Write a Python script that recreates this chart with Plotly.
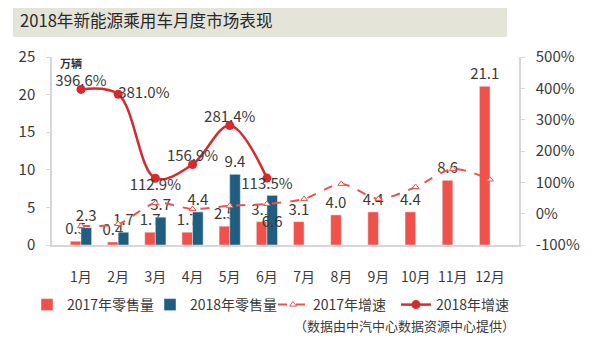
import plotly.graph_objects as go

months = ["1月", "2月", "3月", "4月", "5月", "6月", "7月", "8月", "9月", "10月", "11月", "12月"]
sales_2017 = [0.5, 0.4, 1.7, 1.7, 2.5, 3.1, 3.1, 4.0, 4.4, 4.4, 8.6, 21.1]
sales_2018 = [2.3, 1.7, 3.7, 4.4, 9.4, 6.6, None, None, None, None, None, None]
growth_2017 = [-39, -33, 34, 15, 25, 31, 47, 95, 47, 85, 143, 109]
growth_2018 = [396.6, 381.0, 112.9, 156.9, 281.4, 113.5, None, None, None, None, None, None]

left_ticks = [0, 5, 10, 15, 20, 25]
right_ticks = [-100, 0, 100, 200, 300, 400, 500]

FONT = "Noto Sans CJK SC, Noto Sans, sans-serif"
TXT = "#3a3a3a"
RED = "#f0514a"
BLUE = "#1f5e7e"
LINE_RED = "#d62a2c"

# page body has an 8px default margin; compensate so the figure lands where the reference is
OFF = 8
L, T, PW, PH = 52 - OFF, 57 - OFF, 467, 188

fig = go.Figure()

fig.add_trace(go.Bar(
    x=months, y=sales_2017, name="2017年零售量",
    marker_color=RED,
    text=[f"{v:.1f}" for v in sales_2017], textposition="outside",
    textfont=dict(size=15, color=TXT, family=FONT),
    cliponaxis=False, constraintext="none",
))

pos18 = ["inside" if m == "6月" else "outside" for m in months]
fig.add_trace(go.Bar(
    x=months, y=sales_2018, name="2018年零售量",
    marker_color=BLUE,
    text=[f"{v:.1f}" if v is not None else "" for v in sales_2018],
    textposition=pos18, insidetextanchor="middle",
    textfont=dict(size=15, color=TXT, family=FONT),
    insidetextfont=dict(size=15, color=TXT, family=FONT),
    outsidetextfont=dict(size=15, color=TXT, family=FONT),
    cliponaxis=False, constraintext="none",
))

fig.add_trace(go.Scatter(
    x=months, y=growth_2017, name="2017年增速", yaxis="y2",
    mode="lines+markers",
    line=dict(color=RED, width=2, dash="dash", shape="spline", smoothing=0.8),
    marker=dict(symbol="triangle-up", size=6, color="white", line=dict(color=RED, width=1)),
))

fig.add_trace(go.Scatter(
    x=months, y=growth_2018, name="2018年增速", yaxis="y2",
    mode="lines+markers",
    line=dict(color=LINE_RED, width=2.5, shape="spline", smoothing=1.0),
    marker=dict(symbol="circle", size=9, color=LINE_RED),
))

label_pos = ["top center", "middle right", "bottom center", "top center", "top center", "bottom center",
             "top center", "top center", "top center", "top center", "top center", "top center"]
fig.add_trace(go.Scatter(
    x=months, y=growth_2018, yaxis="y2", mode="text", showlegend=False,
    text=[f"{v:.1f}%" if v is not None else "" for v in growth_2018],
    textposition=label_pos,
    textfont=dict(size=15, color=TXT, family=FONT),
    cliponaxis=False, hoverinfo="skip",
))

fig.update_layout(
    width=600, height=363,
    margin=dict(l=L, r=600 - L - PW, t=T, b=363 - T - PH, autoexpand=False),
    paper_bgcolor="white", plot_bgcolor="white",
    font=dict(family=FONT, size=14, color=TXT),
    barmode="group", bargap=0.43, bargroupgap=0,
    showlegend=True,
    legend=dict(orientation="h", x=(27 - 52) / PW, xanchor="left", y=-60 / PH, yanchor="middle",
                font=dict(size=14, color=TXT, family=FONT), itemwidth=30,
                entrywidth=78, entrywidthmode="pixels",
                traceorder="normal", bgcolor="rgba(0,0,0,0)"),
    title=dict(text="2018年新能源乘用车月度市场表现", x=(20 - OFF) / 600, xanchor="left",
               y=1 - (21 - OFF) / 363, yanchor="middle", xref="container", yref="container",
               font=dict(size=16.6, color="#2a2a2a", family=FONT)),
    xaxis=dict(showline=True, linecolor="#d6d6d6", linewidth=1.5, ticks="",
               ticklabelstandoff=18, tickfont=dict(size=14, color=TXT),
               showgrid=False, fixedrange=True),
    yaxis=dict(range=[0, 25], tickvals=left_ticks, showgrid=False, zeroline=False,
               showline=True, linecolor="#d6d6d6", linewidth=1.5,
               ticks="outside", ticklen=4, tickcolor="#d6d6d6",
               tickfont=dict(size=15, color=TXT), ticklabelstandoff=8),
    yaxis2=dict(range=[-100, 500], tickvals=right_ticks,
                ticktext=[f"{v}%" for v in right_ticks],
                overlaying="y", side="right", showgrid=False, zeroline=False,
                showline=True, linecolor="#d6d6d6", linewidth=1.5,
                ticks="outside", ticklen=4, tickcolor="#d6d6d6",
                tickfont=dict(size=15, color=TXT), ticklabelstandoff=8),
    shapes=[dict(type="rect", xref="paper", yref="paper",
                 x0=(13 - 52) / PW, x1=(507 - 52) / PW, y0=(245 - 37) / PH, y1=(245 - 4) / PH,
                 fillcolor="#e5e4d9", line=dict(width=0), layer="below")],
    annotations=[
        dict(text="<b>万辆</b>", xref="paper", yref="paper", x=(71 - 52) / PW, y=(245 - 63) / PH,
             xanchor="center", yanchor="middle",
             showarrow=False, font=dict(size=11, color="#333333", family=FONT)),
        dict(text="（数据由中汽中心数据资源中心提供）", xref="paper", yref="paper",
             x=(517 - 52) / PW, y=-80 / PH, xanchor="right", yanchor="middle", showarrow=False,
             font=dict(size=13, color=TXT, family=FONT)),
    ],
)

fig.write_html("out.html")
